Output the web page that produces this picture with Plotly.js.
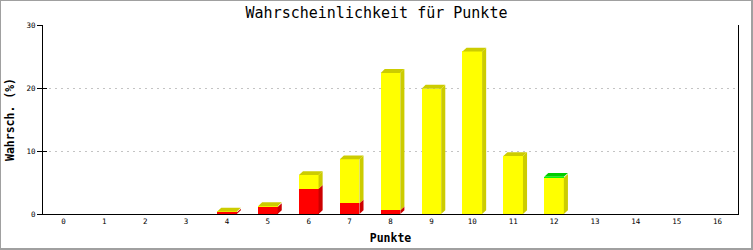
<!DOCTYPE html>
<html>
<head>
<meta charset="utf-8">
<script src="https://cdn.plot.ly/plotly-3.0.1.min.js"></script>
<style>
  html, body { margin: 0; padding: 0; background: #fff; }
  #wrap { position: relative; width: 753px; height: 250px; }
  #chart { width: 753px; height: 250px; }
  #frame { position: absolute; left: 0; top: 0; width: 753px; height: 250px; box-sizing: border-box; border: 1px solid #a0a0a0; border-right-width: 2px; border-bottom-width: 2px; pointer-events: none; }
</style>
</head>
<body>
<div id="wrap"><div id="chart"></div><div id="frame"></div></div>
<script>
// ---- data ----
const categories = [0, 1, 2, 3, 4, 5, 6, 7, 8, 9, 10, 11, 12, 13, 14, 15, 16];
const tickLabels = ["0", "1", "2", "3", "4", "5", "6", "7", "8", "9", "10", "11", "12", "13", "14", "15", "16"];
const redValues    = [0, 0, 0, 0, 0.25, 1.1, 4.0, 1.7, 0.6, 0, 0, 0, 0, 0, 0, 0, 0];
const yellowValues = [0, 0, 0, 0, 0.15, 0.15, 2.2, 7.0, 21.8, 19.9, 25.8, 9.2, 5.75, 0, 0, 0, 0];
const greenValues  = [0, 0, 0, 0, 0, 0, 0, 0, 0, 0, 0, 0, 0.15, 0, 0, 0, 0];
const yTicks = [0, 10, 20, 30];

// ---- styles ----
const series = [
  { name: "rot",  values: redValues,    color: "#ff0000", dark: "#cc0000" },
  { name: "gelb", values: yellowValues, color: "#ffff00", dark: "#cccc00" },
  { name: "grün", values: greenValues,  color: "#00ff00", dark: "#00cc00" }
];
const barWidth = 0.48;
const depthX = 0.1;
const depthY = 0.6;

const traces = [];
// 3D faces (sides and tops), derived from the data
categories.forEach(function (c, i) {
  let base = 0;
  let topSeries = null;
  const hw = barWidth / 2;
  series.forEach(function (s) {
    const v = s.values[i];
    if (v > 0) {
      const t = base + v;
      traces.push({
        type: "scatter", mode: "lines", fill: "toself", fillcolor: s.dark,
        line: { width: 0, color: s.dark }, hoverinfo: "skip", showlegend: false,
        x: [c + hw, c + hw + depthX, c + hw + depthX, c + hw, c + hw],
        y: [base, base + depthY, t + depthY, t, base]
      });
      base = t;
      topSeries = s;
    }
  });
  if (topSeries) {
    traces.push({
      type: "scatter", mode: "lines", fill: "toself", fillcolor: topSeries.dark,
      line: { width: 0, color: topSeries.dark }, hoverinfo: "skip", showlegend: false,
      x: [c - hw, c - hw + depthX, c + hw + depthX, c + hw, c - hw],
      y: [base, base + depthY, base + depthY, base, base]
    });
  }
});
// front faces
series.forEach(function (s) {
  traces.push({
    type: "bar", name: s.name, x: categories, y: s.values, width: barWidth,
    marker: { color: s.color, line: { width: 0 } }, showlegend: false
  });
});
// inner tick marks on the y axis
traces.push({ type: "scatter", x: [], y: [], yaxis: "y2", showlegend: false, hoverinfo: "skip" });

const layout = {
  width: 753, height: 250,
  margin: { l: 43, r: 15, t: 25, b: 36, pad: 0 },
  paper_bgcolor: "#ffffff", plot_bgcolor: "#ffffff",
  barmode: "stack", showlegend: false,
  title: {
    text: "Wahrscheinlichkeit für Punkte",
    font: { family: "DejaVu Sans Mono", size: 15, color: "#000" },
    xref: "container", x: 0.5, xanchor: "center",
    yref: "container", y: 1 - 13 / 250, yanchor: "middle"
  },
  xaxis: {
    type: "linear", range: [-0.5, 16.5], fixedrange: true,
    tickvals: categories, ticktext: tickLabels, ticks: "",
    showgrid: false, zeroline: false,
    showline: true, linecolor: "#000", linewidth: 1,
    tickfont: { family: "DejaVu Sans Mono", size: 7.5, color: "#000" },
    title: { text: "Punkte", font: { family: "DejaVu Sans Mono", size: 11.5, color: "#000", weight: "bold" }, standoff: 8 },
    automargin: false
  },
  yaxis: {
    range: [0, 30], fixedrange: true,
    tickvals: yTicks, ticktext: yTicks.map(String),
    ticks: "outside", ticklen: 5, tickcolor: "#000", tickwidth: 1,
    showgrid: true, gridcolor: "#c4c4c4", griddash: "2px,4px", gridwidth: 1,
    zeroline: false, showline: true, linecolor: "#000", linewidth: 1, mirror: true,
    tickfont: { family: "DejaVu Sans Mono", size: 7.5, color: "#000" },
    title: { text: "Wahrsch. (%)", font: { family: "DejaVu Sans Mono", size: 11.5, color: "#000", weight: "bold" }, standoff: 9 },
    automargin: false
  },
  yaxis2: {
    overlaying: "y", side: "left", range: [0, 30], fixedrange: true,
    tickvals: yTicks, showticklabels: false,
    ticks: "inside", ticklen: 4, tickcolor: "#000", tickwidth: 1,
    showgrid: false, zeroline: false, showline: false
  }
};

Plotly.newPlot("chart", traces, layout, { displayModeBar: false, staticPlot: true });
</script>
</body>
</html>
